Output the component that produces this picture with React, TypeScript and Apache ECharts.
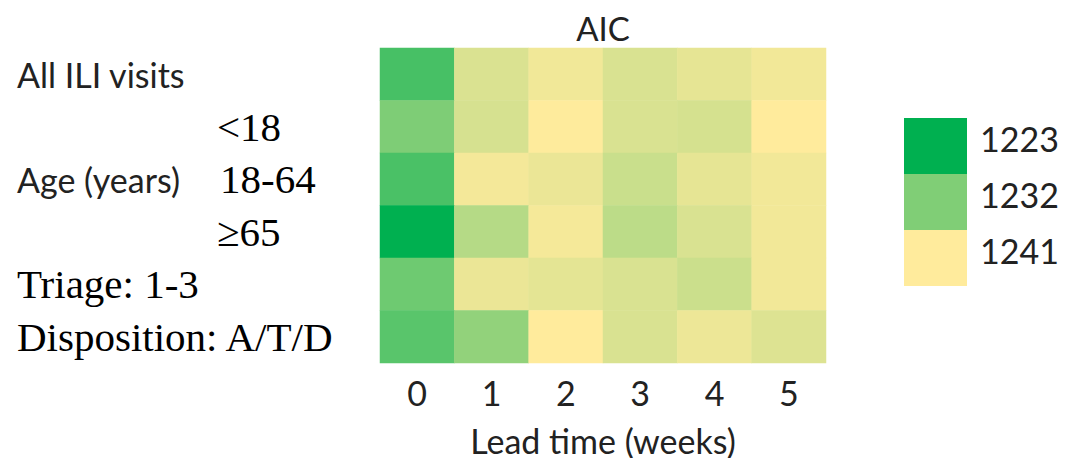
import { useEffect, useRef } from 'react';
import * as echarts from 'echarts';

const leadTimes = ['0', '1', '2', '3', '4', '5'];
const rowLabels = ['All ILI visits', '<18', '18-64', '≥65', 'Triage: 1-3', 'Disposition: A/T/D'];
const aicAllILI = [1228.0, 1238.4, 1240.0, 1238.3, 1239.2, 1240.1];
const aicUnder18 = [1231.9, 1238.1, 1240.9, 1238.3, 1238.0, 1241.0];
const aic18to64 = [1228.2, 1240.2, 1239.6, 1237.2, 1239.2, 1240.1];
const aic65plus = [1223.0, 1235.8, 1240.3, 1236.3, 1238.3, 1240.1];
const aicTriage = [1230.8, 1239.6, 1239.1, 1238.3, 1237.3, 1240.1];
const aicDisposition = [1229.3, 1233.3, 1241.0, 1238.3, 1239.7, 1238.6];
const aicRows = [aicAllILI, aicUnder18, aic18to64, aic65plus, aicTriage, aicDisposition];
const legendValues = [1223, 1232, 1241];
const legendColors = ['#00B050', '#80CE76', '#FFEB9C'];

const SANS = 'Lato, "Liberation Sans", sans-serif';
const SERIF = '"Liberation Serif", "DejaVu Serif", serif';

export default function App() {
  const ref = useRef<HTMLDivElement>(null);
  useEffect(() => {
    if (!ref.current) return;
    const chart = echarts.init(ref.current, undefined, { renderer: 'svg' });
    const data: number[][] = [];
    aicRows.forEach((row, yi) => row.forEach((v, xi) => data.push([xi, yi, v])));

    const labelFmt = (_v: string, i: number) => {
      switch (i) {
        case 0: return `{sans|${rowLabels[0]}}`;
        case 1: return `{pad|}{serif|${rowLabels[1]}}`;
        case 2: return `{sansW|Age (years)}{serif|${rowLabels[2]}}`;
        case 3: return `{pad|}{serif|${rowLabels[3]}}`;
        default: return `{serif|${rowLabels[i]}}`;
      }
    };

    const gx = 896, gy = 110, gw = 63, gh = 56;
    const legendGraphics: any[] = [];
    legendValues.forEach((v, i) => {
      legendGraphics.push({
        type: 'rect',
        shape: { x: gx, y: gy + i * gh, width: gw, height: gh },
        style: { fill: legendColors[i] },
      });
      legendGraphics.push({
        type: 'text',
        x: gx + 76,
        y: gy + i * gh + gh / 2 - 8,
        style: {
          text: String(v),
          font: `34px ${SANS}`,
          fill: '#222',
          verticalAlign: 'middle',
        },
      });
    });

    chart.setOption({
      animation: false,
      title: {
        text: 'AIC',
        left: 595,
        top: 5,
        textAlign: 'center',
        padding: 0,
        textStyle: { fontFamily: SANS, fontSize: 33, lineHeight: 30, fontWeight: 'normal', color: '#222' },
      },
      grid: { left: 372, top: 40, width: 446, height: 315, outerBoundsMode: 'none', containLabel: false },
      xAxis: {
        type: 'category',
        data: leadTimes,
        axisLine: { show: false },
        axisTick: { show: false },
        splitLine: { show: false },
        axisLabel: { fontFamily: SANS, fontSize: 34, color: '#222', margin: 12 },
        name: 'Lead time (weeks)',
        nameLocation: 'middle',
        nameGap: 62,
        nameTextStyle: { fontFamily: SANS, fontSize: 34, lineHeight: 30, color: '#222' },
      },
      yAxis: {
        type: 'category',
        data: rowLabels,
        inverse: true,
        axisLine: { show: false },
        axisTick: { show: false },
        splitLine: { show: false },
        axisLabel: {
          align: 'left',
          margin: 363,
          formatter: labelFmt,
          rich: {
            sans: { fontFamily: SANS, fontSize: 34, color: '#222' },
            sansW: { fontFamily: SANS, fontSize: 34, color: '#222', width: 203 },
            pad: { width: 200 },
            serif: { fontFamily: SERIF, fontSize: 41, color: '#000' },
          },
        },
      },
      visualMap: {
        show: false,
        type: 'continuous',
        min: 1223,
        max: 1241,
        dimension: 2,
        inRange: { color: [legendColors[0], legendColors[2]] },
      },
      series: [
        {
          type: 'heatmap',
          data,
          itemStyle: { borderWidth: 0 },
          emphasis: { disabled: true },
        },
      ],
      graphic: legendGraphics,
    });
    return () => chart.dispose();
  }, []);
  return <div ref={ref} style={{ width: 1053, height: 458, marginBottom: -8 }} />;
}
